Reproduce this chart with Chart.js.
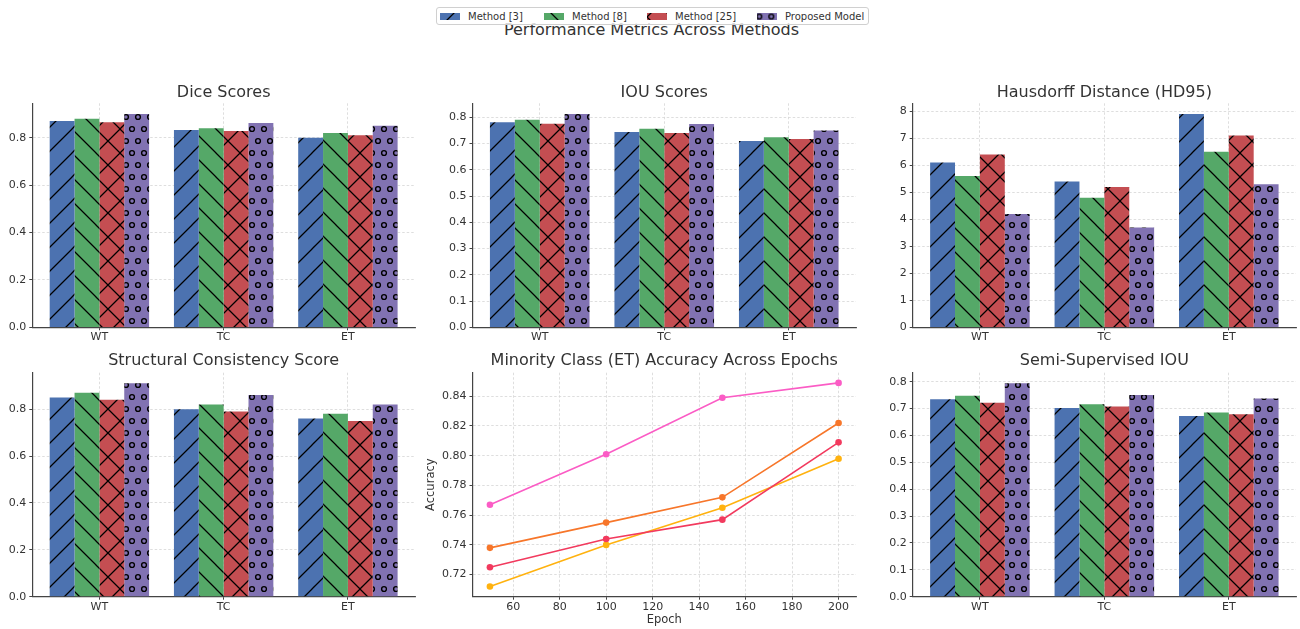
<!DOCTYPE html>
<html>
<head>
<meta charset="utf-8">
<script src="https://cdn.jsdelivr.net/npm/chart.js@4.4.0/dist/chart.umd.min.js"></script>
<style>
  body { margin: 0; width: 1300px; height: 629px; background: #fff; position: relative; overflow: hidden;
         font-family: "DejaVu Sans", sans-serif; color: #333; }
  canvas.panel { position: absolute; }
  #suptitle { position: absolute; left: 0; top: 22px; width: 1303px; text-align: center;
              font-size: 16px; line-height: 16px; white-space: nowrap; }
  #legend { position: absolute; left: 436px; top: 7px; width: 433px; height: 18px; box-sizing: border-box;
            border: 1px solid #d0d0d0; border-radius: 3px; background: rgba(255, 255, 255, 0.8);
            font-size: 10px; }
  .item { position: absolute; top: 0; height: 16px; display: flex; align-items: center; white-space: nowrap; }
  .item canvas { width: 20px; height: 7px; margin-right: 8px; }
</style>
</head>
<body>
<div id="suptitle">Performance Metrics Across Methods</div>
<div id="legend"></div>
<script>
// data
const categories = ['WT', 'TC', 'ET'];
const methods = ['Method [3]', 'Method [8]', 'Method [25]', 'Proposed Model'];

// rows: Method [3], Method [8], Method [25], Proposed Model
const dice = [
  [0.870, 0.832, 0.800],
  [0.880, 0.840, 0.820],
  [0.865, 0.828, 0.810],
  [0.900, 0.862, 0.850],
];
const iou = [
  [0.781, 0.744, 0.710],
  [0.791, 0.757, 0.724],
  [0.776, 0.740, 0.718],
  [0.813, 0.775, 0.750],
];
const hd95 = [
  [6.1, 5.4, 7.9],
  [5.6, 4.8, 6.5],
  [6.4, 5.2, 7.1],
  [4.2, 3.7, 5.3],
];
const structural = [
  [0.85, 0.80, 0.76],
  [0.87, 0.82, 0.78],
  [0.84, 0.79, 0.75],
  [0.91, 0.86, 0.82],
];
const semiIou = [
  [0.735, 0.702, 0.673],
  [0.748, 0.716, 0.686],
  [0.722, 0.708, 0.679],
  [0.794, 0.751, 0.738],
];

const epochs = [50, 100, 150, 200];
const accPink = [0.767, 0.801, 0.839, 0.849];
const accOrange = [0.738, 0.755, 0.772, 0.822];
const accCrimson = [0.725, 0.744, 0.757, 0.809];
const accAmber = [0.712, 0.740, 0.765, 0.798];

// tick labels
const ticks02 = [0, 0.2, 0.4, 0.6, 0.8];
const ticks01 = [0, 0.1, 0.2, 0.3, 0.4, 0.5, 0.6, 0.7, 0.8];
const hdTicks = [0, 1, 2, 3, 4, 5, 6, 7, 8];
const epochTicks = [60, 80, 100, 120, 140, 160, 180, 200];
const accTicks = [0.72, 0.74, 0.76, 0.78, 0.80, 0.82, 0.84];

// styles
const methodColors = ['#4c72b0', '#55a868', '#c44e52', '#8172b2'];
const methodHatches = ['/', '\\', 'x', 'o'];
const lineColors = ['#fb5cc5', '#f7762a', '#f23a5e', '#ffb20f'];
const FONT = '"DejaVu Sans", sans-serif';
const GRID = '#d6d6d6';
const AXIS = '#444';

Chart.defaults.font.family = FONT;
Chart.defaults.color = '#333';
Chart.defaults.animation = false;

function hatchTile(color, kind) {
  const c = document.createElement('canvas');
  c.width = kind === 'o' ? 12 : 24;
  c.height = 24;
  const g = c.getContext('2d');
  g.fillStyle = color;
  g.fillRect(0, 0, c.width, c.height);
  g.strokeStyle = '#000';
  g.lineWidth = 1.25;
  g.beginPath();
  if (kind === '/' || kind === 'x') {
    for (let x0 = -24; x0 <= 24; x0 += 24) { g.moveTo(x0 - 2, 26); g.lineTo(x0 + 26, -2); }
  }
  if (kind === '\\' || kind === 'x') {
    for (let x0 = -24; x0 <= 24; x0 += 24) { g.moveTo(x0 - 2, -2); g.lineTo(x0 + 26, 26); }
  }
  g.stroke();
  if (kind === 'o') {
    g.lineWidth = 1.4;
    [[0, 0], [12, 0], [0, 24], [12, 24], [6, 12]].forEach(([x, y]) => {
      g.beginPath(); g.arc(x, y, 2.4, 0, Math.PI * 2); g.stroke();
    });
  }
  return c;
}

const tiles = methodColors.map((c, k) => hatchTile(c, methodHatches[k]));
const patterns = tiles.map(t => document.createElement('canvas').getContext('2d').createPattern(t, 'repeat'));

// legend
{
  const legend = document.getElementById('legend');
  const lefts = [3, 107, 210, 320];
  const shift = [[-10, 0], [-17, 0], [-12, -8], [2.3, 3.5]];
  methods.forEach((m, k) => {
    const item = document.createElement('div');
    item.className = 'item';
    item.style.left = lefts[k] + 'px';
    const sw = document.createElement('canvas');
    sw.width = 20; sw.height = 7;
    const g = sw.getContext('2d');
    g.translate(shift[k][0], shift[k][1]);
    g.fillStyle = patterns[k];
    g.fillRect(-shift[k][0], -shift[k][1], 20, 7);
    item.appendChild(sw);
    const span = document.createElement('span');
    span.textContent = m;
    item.appendChild(span);
    legend.appendChild(item);
  });
}

// plot areas (L, T, R, B) and title middle, in page pixels
const row1 = { T: 103.3, B: 327.3, Mt: 93.3 };
const row2 = { T: 372.7, B: 596.7, Mt: 360.8 };
const col1 = { L: 32.3, R: 415 };
const col2 = { L: 472.5, R: 856 };
const col3 = { L: 912.7, R: 1296 };

function frame(r, yW, xH, padR) {
  const left = Math.floor(r.L - yW);
  const top = Math.floor(r.Mt - 9.6 - 2);
  const width = Math.ceil(r.R - left + padR);
  const height = Math.ceil(r.B - top + xH);
  return {
    left, top, width, height,
    yW: r.L - left,
    xH: height - (r.B - top),
    padR: width - (r.R - left),
    pt: r.Mt - 9.6 - top,
    pb: r.T - r.Mt - 9.6,
  };
}

function makeCanvas(f) {
  const c = document.createElement('canvas');
  c.className = 'panel';
  c.width = f.width; c.height = f.height;
  c.style.left = f.left + 'px';
  c.style.top = f.top + 'px';
  document.body.appendChild(c);
  return c;
}

function axisBase(tickVals, fmt) {
  return {
    afterBuildTicks: s => { s.ticks = tickVals.map(v => ({ value: v })); },
    ticks: { callback: fmt, color: '#333', font: { size: 11 }, padding: 3, autoSkip: false, maxRotation: 0 },
    grid: { color: GRID, lineWidth: 0.8, tickLength: 3, tickColor: AXIS, tickWidth: 1 },
    border: { color: AXIS, width: 1.2, dash: [2.5, 2] },
  };
}

function baseOptions(f, title, scales) {
  return {
    responsive: false,
    devicePixelRatio: 1,
    animation: false,
    layout: { padding: { left: 0, top: 0, bottom: 0, right: f.padR } },
    plugins: {
      legend: { display: false },
      tooltip: { enabled: false },
      title: {
        display: true, text: title, fullSize: false, color: '#333',
        font: { size: 16, weight: 'normal' },
        padding: { top: f.pt, bottom: f.pb },
      },
    },
    scales,
  };
}

function barPanel(col, row, title, values, tickVals, dec) {
  const f = frame({ ...col, ...row }, 32, 20, 4);
  const n = categories.length;
  const half = 0.4;
  const margin = 0.05 * (n - 1 + 2 * half);
  const yMax = Math.max(...values.flat()) * 1.05;

  const x = axisBase([0, 1, 2], v => categories[v]);
  Object.assign(x, {
    type: 'linear', offset: false, min: -half - margin, max: n - 1 + half + margin,
    afterFit: s => { s.height = f.xH; },
  });
  x.ticks.padding = 0.5;
  x.grid.offset = false;

  const y = axisBase(tickVals, v => v.toFixed(dec));
  Object.assign(y, {
    type: 'linear', min: 0, max: yMax, bounds: 'data',
    afterFit: s => { s.width = f.yW; },
  });

  new Chart(makeCanvas(f), {
    type: 'bar',
    data: {
      datasets: methods.map((m, k) => ({
        label: m,
        data: values[k].map((v, i) => ({ x: i, y: v })),
        backgroundColor: patterns[k],
        borderWidth: 0,
        categoryPercentage: 0.8,
        barPercentage: 1,
      })),
    },
    options: baseOptions(f, title, { x, y }),
  });
}

function linePanel(col, row, title) {
  const f = frame({ ...col, ...row }, 48, 30.4, 4);
  const series = [accPink, accOrange, accCrimson, accAmber];
  const all = series.flat();
  const lo = Math.min(...all), hi = Math.max(...all);
  const ePad = 0.05 * (epochs[epochs.length - 1] - epochs[0]);

  const x = axisBase(epochTicks, v => String(v));
  Object.assign(x, {
    type: 'linear', min: epochs[0] - ePad, max: epochs[epochs.length - 1] + ePad, bounds: 'data',
    afterFit: s => { s.height = f.xH; },
    title: {
      display: true, text: 'Epoch', color: '#333', font: { size: 11.5 },
      padding: { top: 0, bottom: Math.max(0, f.top + f.height - 6.9 - 620.5) },
    },
  });
  x.ticks.padding = 0.5;

  const y = axisBase(accTicks, v => v.toFixed(2));
  Object.assign(y, {
    type: 'linear', min: lo - 0.05 * (hi - lo), max: hi + 0.05 * (hi - lo), bounds: 'data',
    afterFit: s => { s.width = f.yW; },
    title: {
      display: true, text: 'Accuracy', color: '#333', font: { size: 11.5 },
      padding: { top: Math.max(0, 431.5 - f.left - 6.9), bottom: 0 },
    },
  });

  new Chart(makeCanvas(f), {
    type: 'line',
    data: {
      datasets: series.map((s, k) => ({
        label: methods[k],
        data: s.map((v, i) => ({ x: epochs[i], y: v })),
        borderColor: lineColors[k],
        backgroundColor: lineColors[k],
        pointBackgroundColor: lineColors[k],
        pointBorderColor: lineColors[k],
        pointBorderWidth: 0,
        pointRadius: 3.3,
        borderWidth: 1.6,
        tension: 0,
      })),
    },
    options: baseOptions(f, title, { x, y }),
  });
}

barPanel(col1, row1, 'Dice Scores', dice, ticks02, 1);
barPanel(col2, row1, 'IOU Scores', iou, ticks01, 1);
barPanel(col3, row1, 'Hausdorff Distance (HD95)', hd95, hdTicks, 0);
barPanel(col1, row2, 'Structural Consistency Score', structural, ticks02, 1);
linePanel(col2, row2, 'Minority Class (ET) Accuracy Across Epochs');
barPanel(col3, row2, 'Semi-Supervised IOU', semiIou, ticks01, 1);
</script>
</body>
</html>
